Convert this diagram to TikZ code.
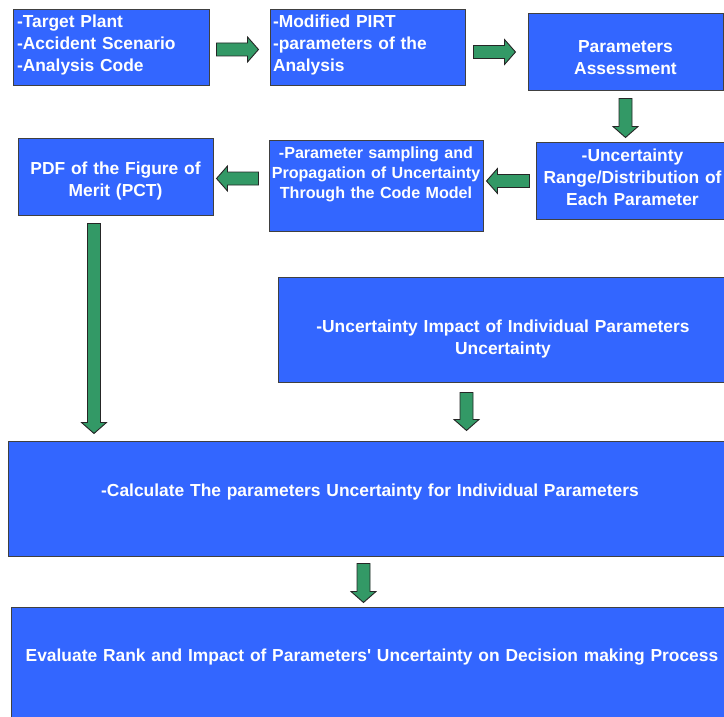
\documentclass[tikz,border=0pt]{standalone}
\usepackage{fontspec}
\setmainfont{Liberation Sans}
\usetikzlibrary{calc}

\definecolor{boxblue}{RGB}{51,102,255}
\definecolor{arrowgreen}{RGB}{51,153,102}

\begin{document}
\begin{tikzpicture}[x=1pt, y=-1pt,
    box/.style={draw=black!75, line width=1pt, fill=boxblue, text=white, inner sep=0pt, align=center,
        font=\fontsize{17.4}{22}\selectfont\bfseries},
    arrowbody/.style={draw=black!85, fill=arrowgreen, line width=0.9pt},
    pics/blockarrow/.style={code={
        \draw [arrowbody] (0,-6.5) -- (#1-11,-6.5) -- (#1-11,-12.5) -- (#1,0)
            -- (#1-11,12.5) -- (#1-11,6.5) -- (0,6.5) -- cycle;
    }}]
\useasboundingbox (0,0) rectangle (724,717);
\clip (0,0) rectangle (724,717);

% first row
\node [box, align=left, text width=188pt, minimum width=196pt, minimum height=76pt, text depth=54pt]
    (plant) at (111,48) {-Target Plant\\-Accident Scenario\\-Analysis Code};
\node [box, align=left, text width=189pt, minimum width=195pt, minimum height=76pt, text depth=54pt]
    (pirt) at (367.5,48) {-Modified PIRT\\-parameters of the\\Analysis};
\node [box, text width=187pt, minimum width=195pt, minimum height=77pt, text height=22.5pt]
    (assess) at (625.5,52.5) {Parameters\\Assessment};

% second row
\node [box, text width=187pt, minimum width=193pt, minimum height=76pt, text depth=52pt]
    (range) at (632.5,181) {-Uncertainty\\Range/Distribution of\\Each Parameter};
\node [box, font=\fontsize{16.1}{20}\selectfont\bfseries, text width=214pt, minimum width=214pt, minimum height=90pt, text depth=67pt]
    (sampling) at (376,186) {-Parameter sampling and\\Propagation of Uncertainty\\Through the Code Model};
\node [box, text width=187pt, minimum width=195pt, minimum height=76pt, text height=21pt]
    (pdf) at (115.5,177) {PDF of the Figure of\\Merit (PCT)};

% wide boxes
\node [box, text width=440pt, minimum width=450pt, minimum height=105pt, text height=32pt]
    (impact) at (503,329.5) {-Uncertainty Impact of Individual Parameters\\Uncertainty};
\node [box, text width=700pt, minimum width=724pt, minimum height=115pt, text depth=16pt]
    (calculate) at (370,498.5) {-Calculate The parameters Uncertainty for Individual Parameters};
\node [box, text width=710pt, minimum width=722pt, minimum height=125pt, text depth=28pt]
    (evaluate) at (372,669.5) {Evaluate Rank and Impact of Parameters\textquotesingle{} Uncertainty on Decision making Process};

% block arrows
\pic at ($(plant.east)+(7,1.5)$) {blockarrow=42};
\pic at ($(pirt.east)+(8,4)$) {blockarrow=42};
\pic [rotate=-90] at ($(assess.south)+(0,7)$) {blockarrow=39};
\pic [rotate=180] at ($(range.west)+(-6,0)$) {blockarrow=43};
\pic [rotate=180] at ($(sampling.west)+(-10,-7.5)$) {blockarrow=42};
\pic [rotate=-90] at ($(pdf.south)+(-21.5,8)$) {blockarrow=210};
\pic [rotate=-90] at ($(impact.south)+(-36.5,10)$) {blockarrow=38};
\pic [rotate=-90] at ($(calculate.south)+(-6.5,7)$) {blockarrow=39};
\end{tikzpicture}
\end{document}
